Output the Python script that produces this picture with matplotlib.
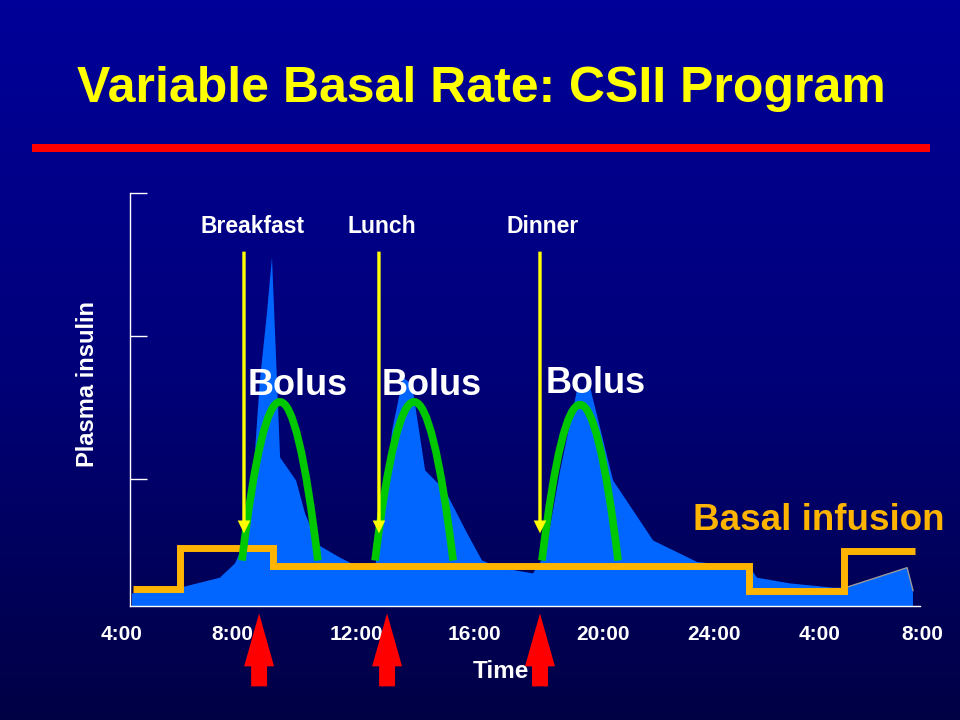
import numpy as np
import matplotlib
matplotlib.use("Agg")
import matplotlib.pyplot as plt
from matplotlib.path import Path
from matplotlib.patches import PathPatch, FancyArrow, Rectangle
import matplotlib.transforms as mtransforms

plt.rcParams['font.family'] = ['Liberation Sans', 'DejaVu Sans']
plt.rcParams['font.weight'] = 'bold'

# time axis in hours from 4:00 (day 1) to 8:00 (day 2, = 32)
tick_pos = [3.70, 7.66, 12.09, 16.31, 20.88, 24.84, 28.63, 32.30]
tick_labels = ['4:00', '8:00', '12:00', '16:00', '20:00', '24:00', '4:00', '8:00']

# plasma insulin profile (arbitrary units)
insulin_t = [4.07, 4.07, 5.79, 7.21, 7.75, 8.11, 8.39, 8.64, 8.89, 9.07, 9.36, 9.93,
             10.25, 10.71, 11.5, 12.21, 12.75, 13.04, 13.36, 13.75, 14.07, 14.54, 15.25,
             16.04, 16.57, 17.21, 18.39, 18.82, 19.36, 19.96, 20.43, 21.25, 22.68, 24.25,
             26.14, 26.39, 27.57, 29.11, 29.54, 31.75, 31.96, 31.96]
insulin_y = [0.11, 0.20, 0.24, 0.31, 0.41, 0.57, 0.99, 1.69, 2.16, 2.55, 1.15, 0.99,
             0.76, 0.54, 0.45, 0.38, 0.38, 0.76, 1.34, 1.71, 1.66, 1.06, 0.92,
             0.62, 0.43, 0.38, 0.34, 0.47, 1.06, 1.62, 1.64, 0.99, 0.57, 0.42,
             0.38, 0.31, 0.27, 0.24, 0.24, 0.38, 0.22, 0.11]

# programmed basal rate steps
basal_t = [4.1, 5.8, 9.1, 26.1, 29.5, 32.04]
basal_rate = [0.23, 0.52, 0.39, 0.22, 0.50, 0.50]

# bolus arches: start, end, peak
bolus_start = [8.0, 12.75, 18.71]
bolus_end = [10.71, 15.54, 21.43]
bolus_peak = [1.54, 1.54, 1.52]
bolus_base = 0.43
bolus_label_x = [10.0, 14.79, 20.64]
bolus_label_y = [1.59, 1.59, 1.60]

meals = ['Breakfast', 'Lunch', 'Dinner']
meal_t = [8.07, 12.89, 18.64]
meal_label_x = [8.375, 12.98, 18.75]
bolus_arrow_t = [8.61, 13.18, 18.64]

fig = plt.figure(figsize=(9.6, 7.2), dpi=100)

# slide background gradient
bg = fig.add_axes([0, 0, 1, 1], zorder=-10)
grad = np.linspace(0, 1, 256).reshape(-1, 1)
cmap = matplotlib.colors.LinearSegmentedColormap.from_list(
    'slide', [(0, 0, 0.60), (0, 0, 0.48), (0, 0, 0.27)])
bg.imshow(grad, aspect='auto', cmap=cmap, extent=[0, 1, 0, 1], origin='upper')
bg.axis('off')

fig.text(481 / 960, 1 - 102 / 720, 'Variable Basal Rate: CSII Program',
         color='#ffff00', fontsize=36, ha='center', va='baseline')
fig.add_artist(Rectangle((32 / 960, 1 - 152 / 720), 898 / 960, 8 / 720,
                         transform=fig.transFigure, color='#ff0000', lw=0))

ax = fig.add_axes([130 / 960, 1 - 606 / 720, 790 / 960, 413 / 720])
ax.set_facecolor('none')
ax.set_xlim(4.0, 32.21)
ax.set_ylim(0.112, 3.0)
for s in ['top', 'right']:
    ax.spines[s].set_visible(False)
for s in ['left', 'bottom']:
    ax.spines[s].set_color('white')
    ax.spines[s].set_linewidth(1)
ax.set_xticks([])
ax.set_yticks([1, 2, 3])
ax.tick_params(axis='y', direction='in', length=12, color='white', width=1,
               labelleft=False)

ax.fill(insulin_t, insulin_y, color='#0066ff', lw=0, zorder=2)
ax.plot(insulin_t[-4:-1], insulin_y[-4:-1], color='#999999', lw=1, zorder=2)

ax.step(basal_t, basal_rate, where='post', color='#ffb400', lw=5,
        solid_joinstyle='miter', solid_capstyle='butt', zorder=3)

for x0, x1, pk in zip(bolus_start, bolus_end, bolus_peak):
    xm = (x0 + x1) / 2
    path = Path([(x0, bolus_base), (xm, 2 * pk - bolus_base), (x1, bolus_base)],
                [Path.MOVETO, Path.CURVE3, Path.CURVE3])
    ax.add_patch(PathPatch(path, facecolor='none', edgecolor='#00c800', lw=5.5,
                           capstyle='butt', zorder=4))

for name, t, lx in zip(meals, meal_t, meal_label_x):
    ax.add_patch(FancyArrow(t, 2.59, 0, 0.62 - 2.59, width=0.12, head_width=0.45,
                            head_length=0.09, length_includes_head=True,
                            color='#ffff00', lw=0, zorder=5))
    ax.text(lx, 2.72, name, color='white', fontsize=16.5, ha='center', va='baseline')

for x, y in zip(bolus_label_x, bolus_label_y):
    ax.text(x, y, 'Bolus', color='white', fontsize=26, ha='center', va='baseline',
            zorder=6)

ax.text(28.61, 0.64, 'Basal infusion', color='#ffb400', fontsize=26.5,
        ha='center', va='baseline', zorder=6)

for t in bolus_arrow_t:
    ax.add_patch(FancyArrow(t, -0.45, 0, 0.51, width=0.57, head_width=1.07,
                            head_length=0.37, length_includes_head=True,
                            color='#ff0000', lw=0, clip_on=False, zorder=6))

trans = mtransforms.blended_transform_factory(ax.transData, fig.transFigure)
for p, lab in zip(tick_pos, tick_labels):
    ax.text(p, 1 - 640 / 720, lab, transform=trans, color='white', fontsize=15,
            ha='center', va='baseline')

fig.text(501 / 960, 1 - 678 / 720, 'Time', color='white', fontsize=17.5,
         ha='center', va='baseline')
fig.text(87 / 960, 1 - 384 / 720, 'Plasma insulin', color='white', fontsize=17,
         rotation=90, ha='center', va='center')

fig.savefig('out.png', dpi=100)
